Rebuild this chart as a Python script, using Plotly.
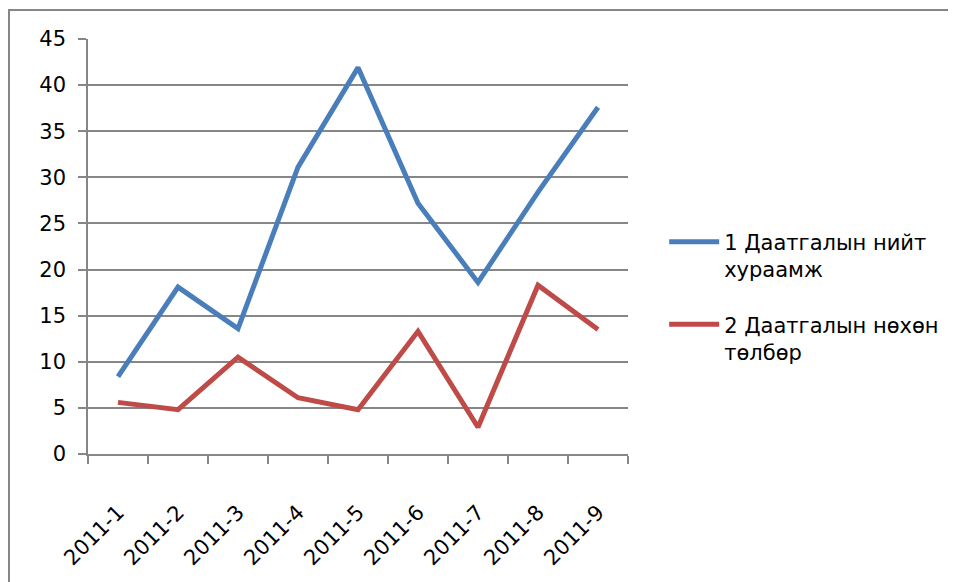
import plotly.graph_objects as go

categories = ["2011-1", "2011-2", "2011-3", "2011-4", "2011-5", "2011-6", "2011-7", "2011-8", "2011-9"]
series1_name = "1 Даатгалын нийт<br>хураамж"
series1 = [8.4, 18.1, 13.6, 31.1, 41.9, 27.2, 18.6, 28.4, 37.6]
series2_name = "2 Даатгалын нөхөн<br>төлбөр"
series2 = [5.6, 4.8, 10.5, 6.1, 4.8, 13.3, 2.9, 18.3, 13.5]
y_ticks = [0, 5, 10, 15, 20, 25, 30, 35, 40, 45]

FONT = "DejaVu Sans"
GRID = "#868686"

fig = go.Figure()
fig.add_trace(go.Scatter(x=categories, y=series1, name=series1_name, mode="lines",
                         line=dict(color="#4A7EBB", width=5), legendgroup="a"))
fig.add_trace(go.Scatter(x=categories, y=series2, name=series2_name, mode="lines",
                         line=dict(color="#BE4B48", width=5), legendgroup="b"))

fig.update_layout(
    width=948, height=574,
    margin=dict(l=80, r=328, t=31, b=127.5, autoexpand=False),
    paper_bgcolor="white", plot_bgcolor="white",
    font=dict(family=FONT, size=21, color="black"),
    showlegend=True,
    legend=dict(x=1.067, y=0.56, xanchor="left", yanchor="top", valign="top",
                tracegroupgap=25, itemwidth=50, font=dict(size=21),
                bgcolor="rgba(0,0,0,0)"),
    xaxis=dict(type="category", range=[-0.5, 8.5], tickson="boundaries",
               ticks="outside", ticklen=8, tickcolor=GRID, tickwidth=1.5,
               showline=True, linecolor=GRID, linewidth=1.5, showgrid=False,
               tickangle=-45, tickfont=dict(size=21), ticklabelstandoff=36,
               automargin=False, fixedrange=True),
    yaxis=dict(range=[0, 45], tickvals=y_ticks, ticks="outside", ticklen=8,
               tickcolor=GRID, tickwidth=1.5, showline=True, linecolor=GRID,
               linewidth=1.5, showgrid=True, gridcolor=GRID, gridwidth=1.5,
               zeroline=False, tickfont=dict(size=21), ticklabelstandoff=8,
               automargin=False, fixedrange=True),
    shapes=[dict(type="rect", xref="paper", yref="paper",
                 x0=(9 - 88) / 540, x1=2.0, y0=-1.0, y1=(454.5 - 10) / 415.5,
                 line=dict(color=GRID, width=2), fillcolor="rgba(0,0,0,0)", layer="below")],
)

fig.write_html("out.html")
